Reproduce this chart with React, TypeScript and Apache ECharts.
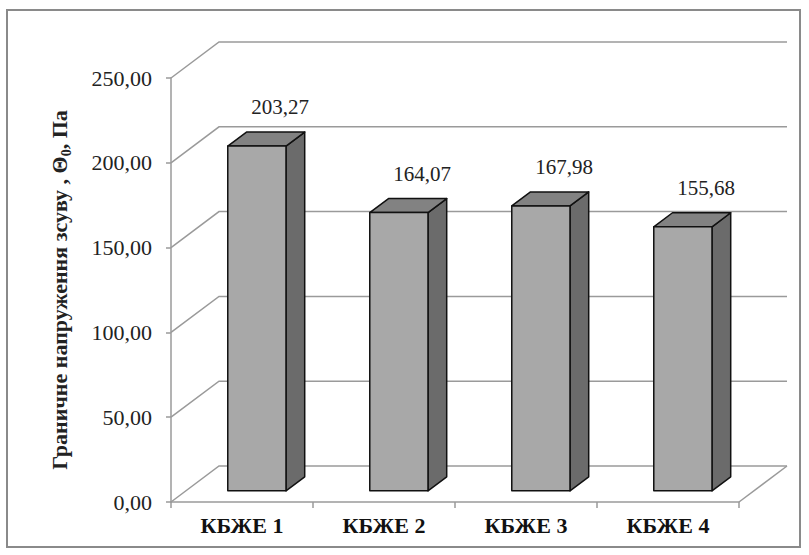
import React, { useEffect, useRef } from "react";
import * as echarts from "echarts";

const categories = ["КБЖЕ 1", "КБЖЕ 2", "КБЖЕ 3", "КБЖЕ 4"];
const values = [203.27, 164.07, 167.98, 155.68];
const yTicks = [0, 50, 100, 150, 200, 250];

const FONT = "Liberation Serif, Times New Roman, serif";
const DX = 48;
const DY = -36;
const F1 = 0.31;
const F2 = 0.7;
const BAR_W = 0.41;

const fmt = (v: number) => v.toFixed(2).replace(".", ",");

export default function App() {
  const ref = useRef<HTMLDivElement>(null);
  useEffect(() => {
    if (!ref.current) return;
    const chart = echarts.init(ref.current, null, { renderer: "svg" });
    const option: any = {
      animation: false,
      backgroundColor: "#ffffff",
      grid: { left: 171, right: 70, top: 78, bottom: 53, containLabel: false },
      xAxis: {
        type: "category",
        data: categories,
        boundaryGap: true,
        axisLine: { show: true, lineStyle: { color: "#9a9a9a", width: 1.5 } },
        axisTick: { show: true, alignWithLabel: false, length: 6, lineStyle: { color: "#9a9a9a", width: 1.5 } },
        axisLabel: {
          margin: 12,
          color: "#111",
          fontFamily: FONT,
          fontSize: 22,
          fontWeight: "bold",
        },
        splitLine: { show: false },
      },
      yAxis: {
        type: "value",
        min: 0,
        max: 250,
        interval: 50,
        axisLine: { show: true, lineStyle: { color: "#9a9a9a", width: 1.5 } },
        axisTick: { show: true, length: 5, lineStyle: { color: "#9a9a9a", width: 1.5 } },
        axisLabel: {
          margin: 19,
          color: "#222",
          fontFamily: FONT,
          fontSize: 22,
          formatter: (v: number) => fmt(v),
        },
        splitLine: { show: false },
        name: "Граничне напруження зсуву , Θ{sub|0}, Па",
        nameLocation: "middle",
        nameRotate: 90,
        nameGap: 98,
        nameTextStyle: {
          color: "#222",
          fontFamily: FONT,
          fontSize: 22,
          fontWeight: "bold",
          lineHeight: 27,
          rich: {
            sub: {
              fontFamily: FONT,
              fontSize: 14,
              fontWeight: "bold",
              color: "#222",
              verticalAlign: "bottom",
              lineHeight: 27,
            },
          },
        },
      },
      graphic: [
        {
          type: "rect",
          shape: { x: 7, y: 10, width: 793, height: 537 },
          style: { fill: "none", stroke: "#8a8a8a", lineWidth: 2 },
          silent: true,
          z: 0,
        },
      ],
      series: [
        {
          type: "custom",
          name: "walls",
          clip: false,
          z: 1,
          silent: true,
          data: yTicks.map((v) => [0, v]),
          renderItem: (params: any, api: any) => {
            const v = api.value(1);
            const cs = params.coordSys;
            const y = api.coord([0, v])[1];
            const x0 = cs.x;
            const x1 = cs.x + cs.width;
            const style = { stroke: "#9a9a9a", lineWidth: 1.5, fill: "none" };
            const children: any[] = [
              {
                type: "polyline",
                shape: { points: [[x0, y], [x0 + DX, y + DY], [x1 + DX, y + DY]] },
                style,
              },
            ];
            if (v === 0) {
              children.push({
                type: "line",
                shape: { x1: x1, y1: y, x2: x1 + DX, y2: y + DY },
                style,
              });
            }
            return { type: "group", children };
          },
        },
        {
          type: "custom",
          name: "bars",
          clip: false,
          z: 3,
          data: values.map((v, i) => [i, v]),
          renderItem: (params: any, api: any) => {
            const cat = api.value(0);
            const v = api.value(1);
            const p0 = api.coord([cat, 0]);
            const pt = api.coord([cat, v]);
            const cx = p0[0];
            const y0 = p0[1];
            const yt = pt[1];
            const bw = api.size([1, 0])[0] * BAR_W;
            const ox1 = DX * F1;
            const oy1 = DY * F1;
            const ddx = DX * (F2 - F1);
            const ddy = DY * (F2 - F1);
            const L1 = cx - bw / 2 + ox1;
            const R1 = cx + bw / 2 + ox1;
            const T1 = yt + oy1;
            const B1 = y0 + oy1;
            const edge = { stroke: "#111", lineWidth: 1.5, lineJoin: "round" };
            return {
              type: "group",
              children: [
                {
                  type: "polygon",
                  shape: { points: [[R1, T1], [R1 + ddx, T1 + ddy], [R1 + ddx, B1 + ddy], [R1, B1]] },
                  style: { fill: "#6b6b6b", ...edge },
                },
                {
                  type: "polygon",
                  shape: { points: [[L1, T1], [R1, T1], [R1 + ddx, T1 + ddy], [L1 + ddx, T1 + ddy]] },
                  style: { fill: "#828282", ...edge },
                },
                {
                  type: "rect",
                  shape: { x: L1, y: T1, width: bw, height: B1 - T1 },
                  style: { fill: "#a8a8a8", ...edge },
                },
                {
                  type: "text",
                  style: {
                    text: fmt(v),
                    x: cx + 38,
                    y: T1 + ddy - 25,
                    align: "center",
                    verticalAlign: "middle",
                    fontFamily: FONT,
                    fontSize: 21,
                    fill: "#222",
                  },
                },
              ],
            };
          },
        },
      ],
    };
    chart.setOption(option);
    return () => chart.dispose();
  }, []);
  return (
    <div
      ref={ref}
      style={{ position: "fixed", left: 0, top: 0, width: 809, height: 555, background: "#fff" }}
    />
  );
}
